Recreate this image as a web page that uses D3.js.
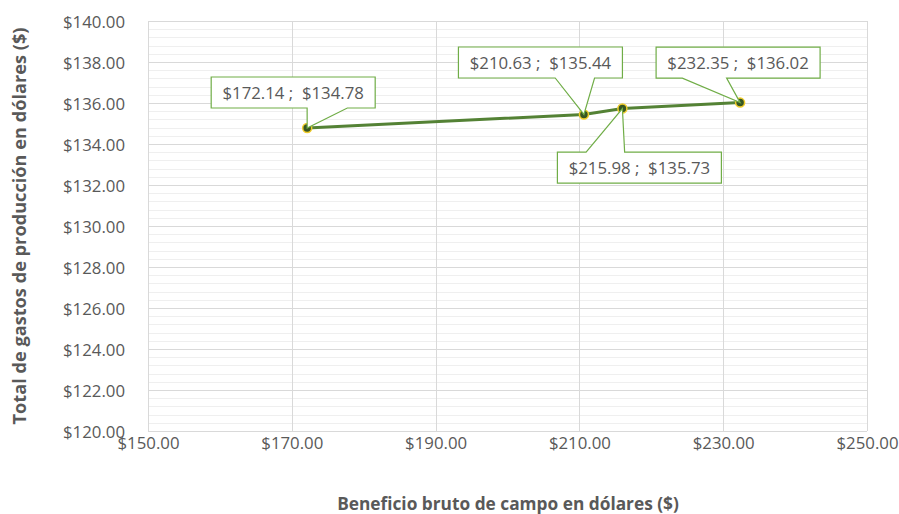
<!DOCTYPE html>
<html>
<head>
<meta charset="utf-8">
<script src="https://cdn.jsdelivr.net/npm/d3@7"></script>
<style>
  body { margin: 0; background: #fff; }
  svg text { font-family: "Open Sans", "Noto Sans", sans-serif; fill: #595959; }
</style>
</head>
<body>
<div class="main"></div>
<script>
// data
const beneficio = [172.14, 210.63, 215.98, 232.35];
const gastos = [134.78, 135.44, 135.73, 136.02];
const xTicks = [150, 170, 190, 210, 230, 250];
const yTicks = [120, 122, 124, 126, 128, 130, 132, 134, 136, 138, 140];

// callout layout: box centre offset from point, wedge base as fraction of box width, wedge side
const callouts = [
  { dx: -14, dy: -35.5, a: 0.585, b: 0.83, side: "bottom" },
  { dx: -43.5, dy: -52, a: 0.59, b: 0.83, side: "bottom" },
  { dx: 17, dy: 59, a: 0.175, b: 0.41, side: "top" },
  { dx: -2, dy: -40, a: 0.16, b: 0.43, side: "bottom" }
];

const w = 899, h = 514;
const pLeft = 148, pRight = 867, pTop = 21, pBottom = 431;

const svg = d3.select(".main").append("svg")
  .attr("width", w)
  .attr("height", h);

const xScale = d3.scaleLinear().domain([150, 250]).range([pLeft, pRight]);
const yScale = d3.scaleLinear().domain([120, 140]).range([pBottom, pTop]);

// minor horizontal grid
const minor = d3.range(120, 140.001, 0.4).filter(v => Math.abs(v / 2 - Math.round(v / 2)) > 0.01);
svg.append("g").selectAll("line")
  .data(minor)
  .enter().append("line")
  .attr("x1", pLeft).attr("x2", pRight)
  .attr("y1", d => Math.round(yScale(d)) + 0.5)
  .attr("y2", d => Math.round(yScale(d)) + 0.5)
  .attr("stroke", "#efefef");

// major grid
svg.append("g").selectAll("line")
  .data(yTicks)
  .enter().append("line")
  .attr("x1", pLeft).attr("x2", pRight)
  .attr("y1", d => Math.round(yScale(d)) + 0.5)
  .attr("y2", d => Math.round(yScale(d)) + 0.5)
  .attr("stroke", "#d9d9d9");

svg.append("g").selectAll("line")
  .data(xTicks)
  .enter().append("line")
  .attr("y1", pTop).attr("y2", pBottom)
  .attr("x1", d => Math.round(xScale(d)) + 0.5)
  .attr("x2", d => Math.round(xScale(d)) + 0.5)
  .attr("stroke", "#d9d9d9");

// axes (labels only)
const fmt = d => "$" + d3.format(".2f")(d);

const yAxis = svg.append("g")
  .attr("transform", "translate(" + (pLeft - 23) + ",0)")
  .call(d3.axisLeft(yScale).tickValues(yTicks).tickFormat(fmt).tickSize(0).tickPadding(0));
yAxis.select(".domain").remove();
yAxis.selectAll("text").attr("font-size", "16.8px").attr("dy", "0.36em");

const xAxis = svg.append("g")
  .attr("transform", "translate(0," + (pBottom + 2) + ")")
  .call(d3.axisBottom(xScale).tickValues(xTicks).tickFormat(fmt).tickSize(0).tickPadding(4));
xAxis.select(".domain").remove();
xAxis.selectAll("text").attr("font-size", "16.8px");
svg.selectAll(".tick text").style("font-family", "'Open Sans', 'Noto Sans', sans-serif").attr("fill", "#595959");

// line
const pts = beneficio.map((d, i) => [d, gastos[i]]);
svg.append("path")
  .datum(pts)
  .attr("d", d3.line().x(d => xScale(d[0])).y(d => yScale(d[1])))
  .attr("fill", "none")
  .attr("stroke", "#548235")
  .attr("stroke-width", 3);

svg.selectAll("circle")
  .data(pts)
  .enter().append("circle")
  .attr("cx", d => xScale(d[0]))
  .attr("cy", d => yScale(d[1]))
  .attr("r", 4.5)
  .attr("fill", "#375623")
  .attr("stroke", "#f0cc2a")
  .attr("stroke-width", 1.5);

// callouts
const bw = 164, bh = 31;
pts.forEach((d, i) => {
  const c = callouts[i];
  const px = xScale(d[0]), py = yScale(d[1]);
  const cx = px + c.dx, cy = py + c.dy;
  const x0 = cx - bw / 2, x1 = cx + bw / 2, y0 = cy - bh / 2, y1 = cy + bh / 2;
  const wa = x0 + c.a * bw, wb = x0 + c.b * bw;
  let p;
  if (c.side === "bottom") {
    p = [[x0, y0], [x1, y0], [x1, y1], [wb, y1], [px, py], [wa, y1], [x0, y1]];
  } else {
    p = [[x0, y0], [wa, y0], [px, py], [wb, y0], [x1, y0], [x1, y1], [x0, y1]];
  }
  svg.append("path")
    .attr("d", "M" + p.map(q => q.join(",")).join("L") + "Z")
    .attr("fill", "#fff")
    .attr("stroke", "#70ad47")
    .attr("stroke-width", 1.2);
  svg.append("text")
    .attr("x", cx)
    .attr("y", cy)
    .attr("dy", "0.36em")
    .attr("font-size", "16.8px")
    .style("text-anchor", "middle")
    .style("white-space", "pre")
    .text(fmt(d[0]) + " ;  " + fmt(d[1]));
});

// axis titles
svg.append("text")
  .attr("x", 508)
  .attr("y", 510)
  .attr("font-size", "17.3px")
  .attr("font-weight", "bold")
  .style("text-anchor", "middle")
  .text("Beneficio bruto de campo en dólares ($)");

svg.append("text")
  .attr("transform", "rotate(-90)")
  .attr("x", -226)
  .attr("y", 26)
  .attr("font-size", "18.2px")
  .attr("font-weight", "bold")
  .style("text-anchor", "middle")
  .text("Total de gastos de producción en dólares ($)");
</script>
</body>
</html>
